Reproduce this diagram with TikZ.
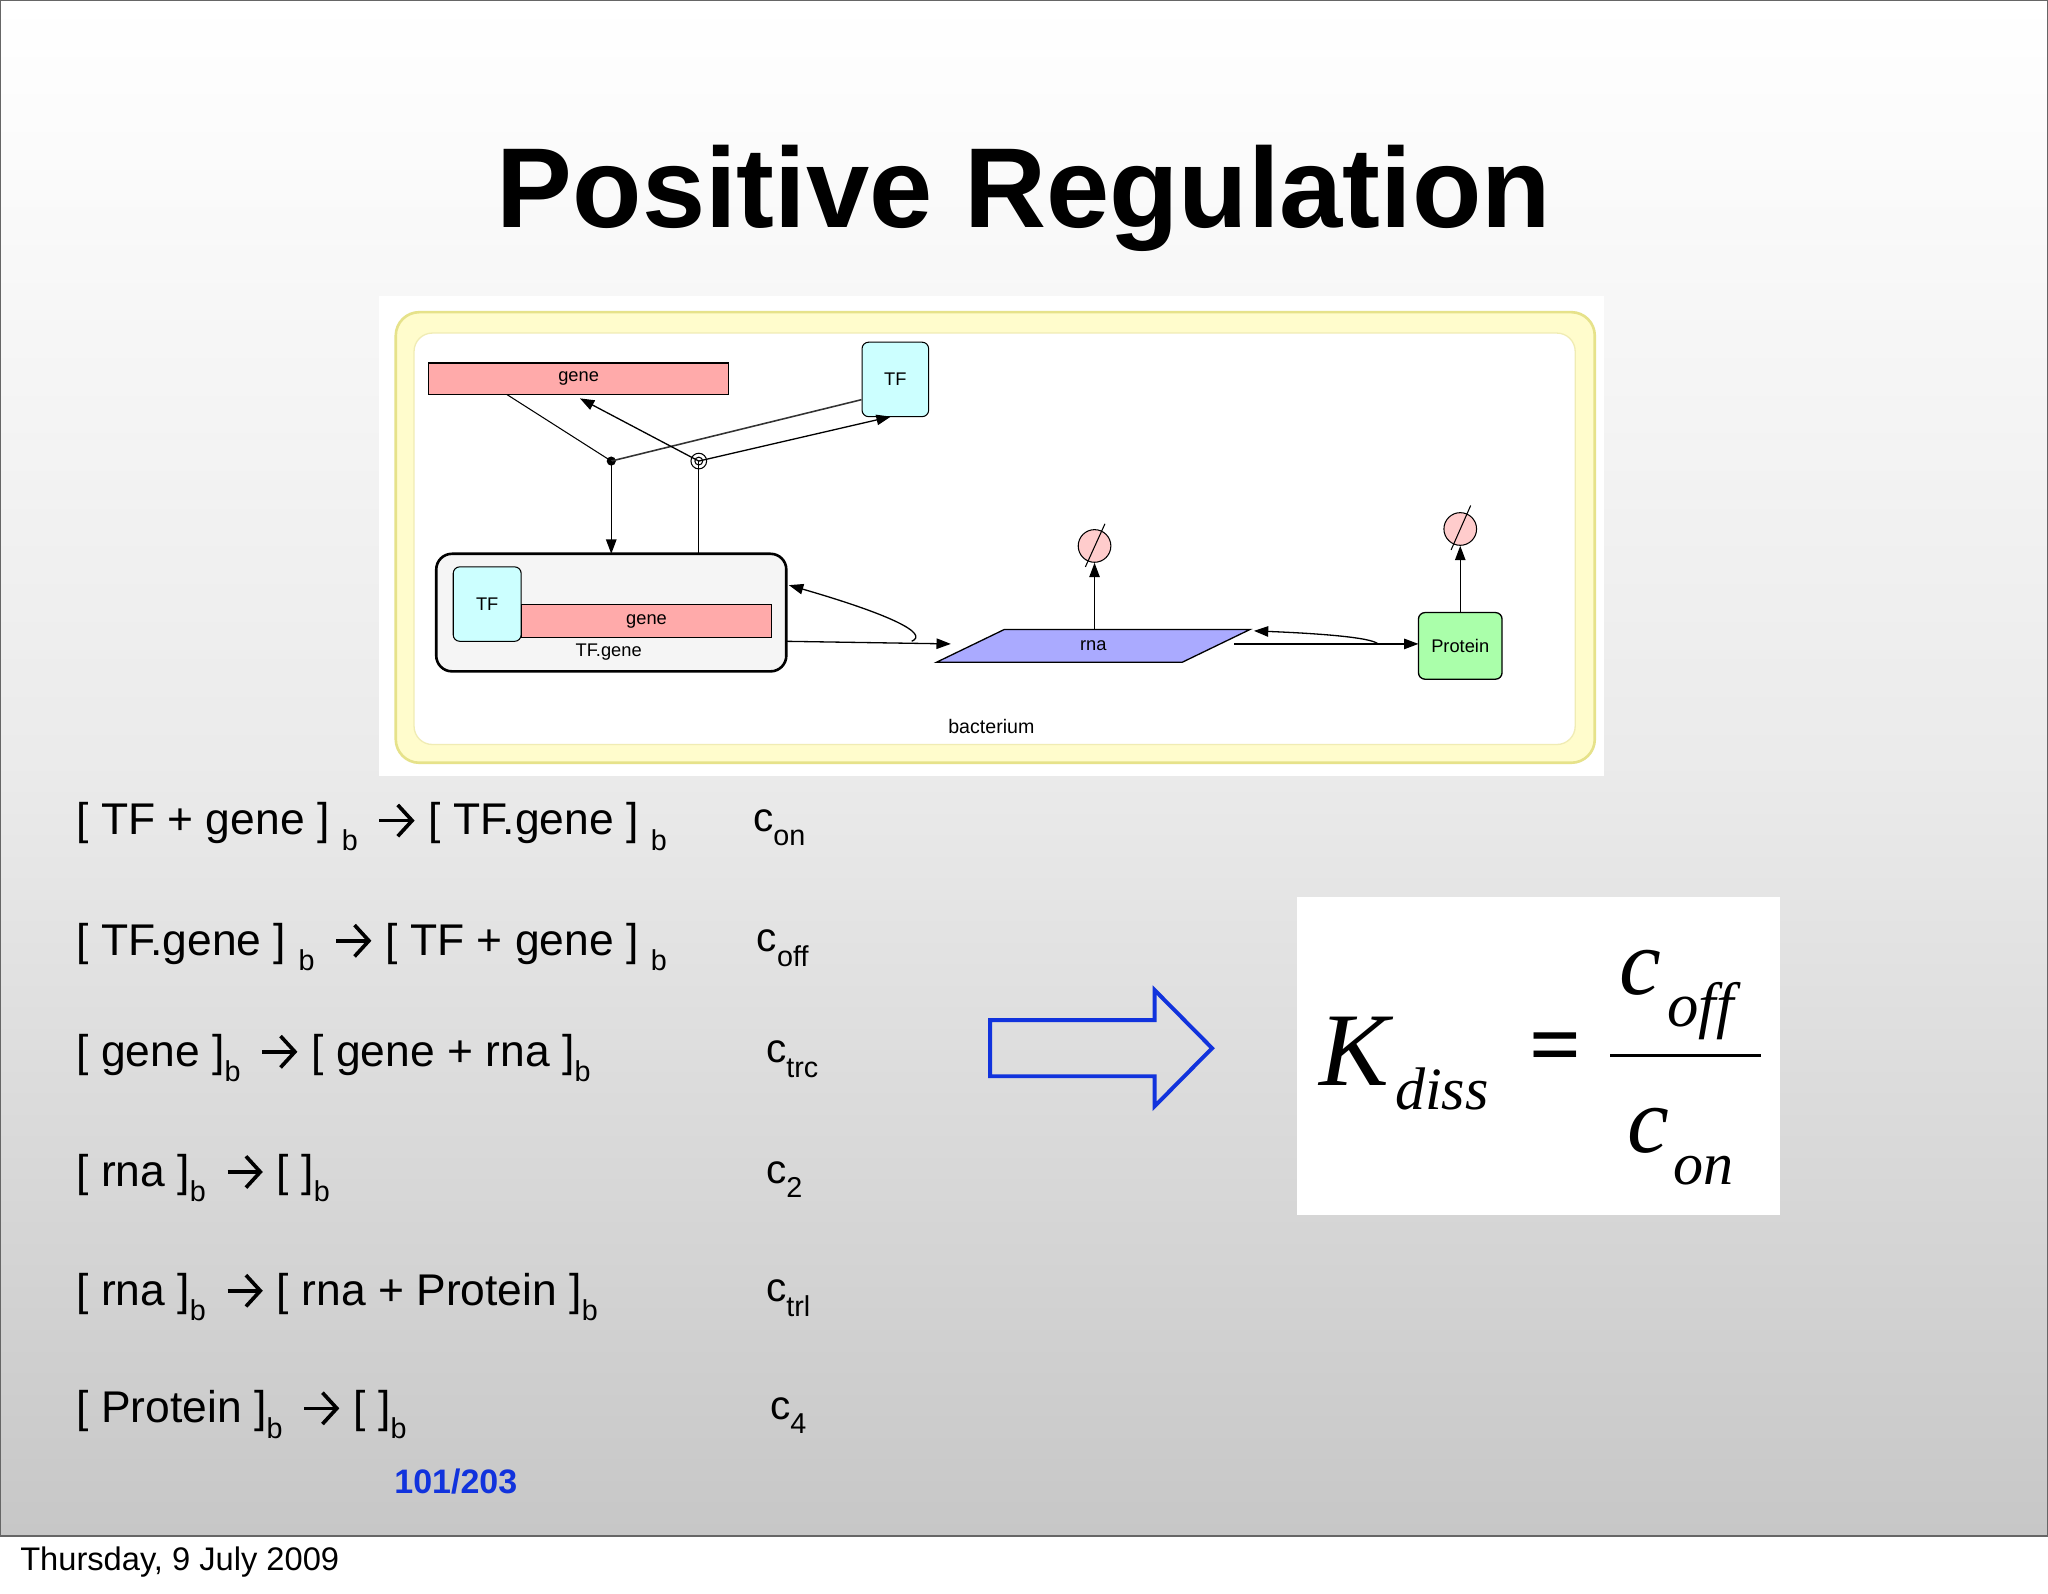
\documentclass[tikz,border=0pt]{standalone}
\usepackage{fontspec}
\setmainfont{Liberation Sans}
\newfontfamily\serifit{Liberation Serif}
\usetikzlibrary{arrows.meta,shapes.geometric}
\definecolor{genec}{HTML}{FFAAAA}
\definecolor{tfc}{HTML}{CCFFFF}
\definecolor{rnac}{HTML}{AAAAFF}
\definecolor{protc}{HTML}{AAFFAA}
\definecolor{pagec}{HTML}{1133DD}
\newcommand{\sbx}[1]{\raisebox{-0.35em}{\fontsize{22}{22}\selectfont #1}}
\newcommand{\rar}{\,\tikz[x=1pt,y=1pt,baseline=0pt]\draw[line width=2.8pt,-{Straight Barb[length=11pt,width=24pt,line width=2.8pt]}] (0,11) -- (27,11);\ }
\begin{document}
\begin{tikzpicture}[x=1pt,y=-1pt,
  dnode/.style={draw,line width=1.2pt,font=\fontsize{14}{14}\selectfont},
  arr/.style={-{Triangle[length=11pt,width=8pt]},line width=1pt},
  reac/.style={anchor=west,font=\fontsize{34}{36}\selectfont},
  rate/.style={anchor=west,font=\fontsize{31}{34}\selectfont}]
\useasboundingbox (0,0) rectangle (1568,1220);
\fill[white] (0,0) rectangle (1568,1220);
\shade[top color=white,bottom color=black!22,middle color=black!8] (0,0) rectangle (1568,1176);
\draw[black!60,line width=1pt] (0.5,0.5) rectangle (1567.5,1176);
\node[font=\bfseries\fontsize{87}{90}\selectfont] (title) at (784,152) {Positive Regulation};
% diagram
\fill[white] (290,227) rectangle (1228,594);
\draw[fill=yellow!20!white,draw=yellow!45!olive!40,line width=2pt,rounded corners=18pt] (303,239) rectangle (1221,584);
\draw[fill=white,draw=yellow!45!olive!25,line width=1pt,rounded corners=14pt] (317,255) rectangle (1206,570);
\node[dnode,fill=genec,minimum width=230pt,minimum height=24pt,line width=1pt] (gene) at (443,290) {gene};
\node[dnode,fill=tfc,rounded corners=5pt,minimum width=51pt,minimum height=57pt,line width=0.8pt] (tf) at (685.5,290.5) {TF};
\fill (468,353) circle (3.5pt) coordinate (dot);
\draw[line width=0.8pt,fill=white] (535,353) circle (6pt);
\draw[line width=0.8pt] (535,353) circle (3pt);
\coordinate (cir) at (535,353);
\node[dnode,fill=black!4,rounded corners=12pt,minimum width=268pt,minimum height=90pt,line width=2pt] (cx) at (468,469) {};
\node[dnode,fill=tfc,rounded corners=5pt,minimum width=52pt,minimum height=57pt,line width=0.8pt] (tf2) at (373,462.5) {TF};
\node[dnode,fill=genec,minimum width=191pt,minimum height=25pt,line width=1pt,anchor=west] (gene2) at (399,475.5) {gene};
\node[font=\fontsize{14}{14}\selectfont] (cxl) at (466,499) {TF.gene};
\node[dnode,fill=rnac,trapezium,trapezium stretches=true,trapezium left angle=45,trapezium right angle=135,minimum width=240pt,minimum height=25pt,inner sep=0pt,line width=1pt] (rna) at (837,494.5) {rna};
\node[dnode,fill=protc,rounded corners=5pt,minimum width=64pt,minimum height=51pt,line width=1pt] (prot) at (1118,494.5) {Protein};
\node[circle,draw,fill=genec!60,minimum size=25pt,inner sep=0pt,line width=0.8pt] (d1) at (838,418) {};
\draw[line width=0.8pt] (831,434) -- (846,401);
\node[circle,draw,fill=genec!60,minimum size=25pt,inner sep=0pt,line width=0.8pt] (d2) at (1118,405) {};
\draw[line width=0.8pt] (1111,421) -- (1126,387);
\node[font=\fontsize{15}{15}\selectfont] (bact) at (759,556) {bacterium};
\draw[line width=0.8pt] (388,302) -- (dot);
\draw[line width=1.2pt,black!80] (tf.west|-0,306) -- (dot);
\draw[arr] (cir) -- (682,319);
\draw[arr] (cir) -- (444,305);
\draw[arr] (dot) -- (468,424);
\draw[line width=0.8pt] (cir) -- (535,424);
\draw[arr] (602,491) -- (728,493);
\draw[arr] (698,491) .. controls (712,485) and (680,470) .. (604,448);
\draw[arr] (838,482) -- (d1);
\draw[arr] (945,493) -- (1086,493);
\draw[arr] (1055,493) .. controls (1050,488) and (1010,485) .. (960,483);
\draw[arr] (prot) -- (d2);
% reactions
\node[reac] (r1) at (55,633) {[ TF + gene ] \sbx{b} \rar[ TF.gene ] \sbx{b}};
\node[reac] (r2) at (55,725) {[ TF.gene ] \sbx{b} \rar[ TF + gene ] \sbx{b}};
\node[reac] (r3) at (55,810) {[ gene ]\sbx{b} \rar[ gene + rna ]\sbx{b}};
\node[reac] (r4) at (55,902) {[ rna ]\sbx{b} \rar[ ]\sbx{b}};
\node[reac] (r5) at (55,993) {[ rna ]\sbx{b} \rar[ rna + Protein ]\sbx{b}};
\node[reac] (r6) at (55,1083) {[ Protein ]\sbx{b} \rar[ ]\sbx{b}};
\node[rate] (k1) at (573,634) {c\sbx{on}};
\node[rate] (k2) at (576,726) {c\sbx{off}};
\node[rate] (k3) at (583,811) {c\sbx{trc}};
\node[rate] (k4) at (583,903) {c\sbx{2}};
\node[rate] (k5) at (583,994) {c\sbx{trl}};
\node[rate] (k6) at (586,1084) {c\sbx{4}};
% arrow
\draw[draw=pagec,line width=3pt,fill=none] (758,781) -- (884,781) -- (884,758) -- (928,802.5) -- (884,847) -- (884,824) -- (758,824) -- cycle;
% formula
\fill[white] (993,687) rectangle (1363,930);
\node[font=\serifit\itshape\fontsize{80}{80}\selectfont] (K) at (1037,805) {K};
\node[font=\serifit\itshape\fontsize{46}{46}\selectfont] (diss) at (1104,834) {diss};
\node[font=\serifit\bfseries\fontsize{70}{70}\selectfont] (eq) at (1191,807) {=};
\draw[line width=2pt] (1233,808) -- (1348,808);
\node[font=\serifit\itshape\fontsize{72}{72}\selectfont] (c1) at (1256,745) {c};
\node[font=\serifit\itshape\fontsize{48}{48}\selectfont] (off) at (1302,774) {off};
\node[font=\serifit\itshape\fontsize{72}{72}\selectfont] (c2) at (1262,866) {c};
\node[font=\serifit\itshape\fontsize{46}{46}\selectfont] (on) at (1304,896) {on};
\node[font=\bfseries\fontsize{26}{26}\selectfont,text=pagec] (pg) at (349,1134) {101/203};
\node[anchor=west,font=\fontsize{25}{25}\selectfont] (foot) at (12,1196) {Thursday, 9 July 2009};
\end{tikzpicture}
\end{document}
